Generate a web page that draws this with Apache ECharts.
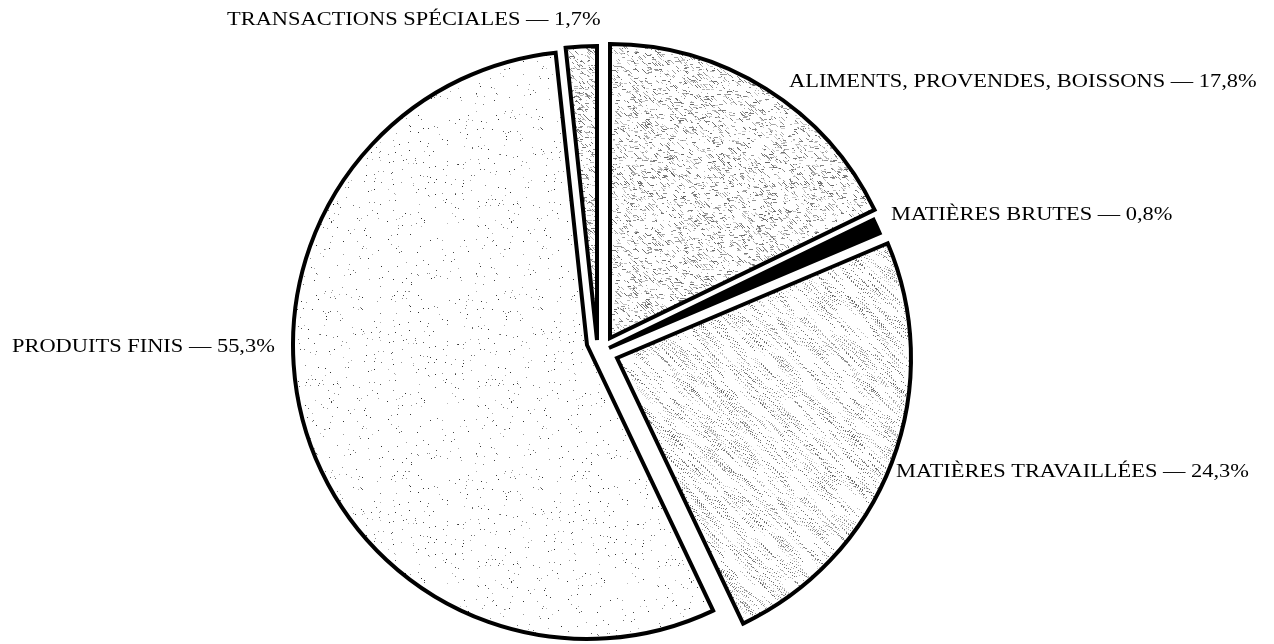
<!DOCTYPE html>
<html>
<head>
<meta charset="utf-8">
<script src="https://cdn.jsdelivr.net/npm/echarts@6/dist/echarts.min.js"></script>
<style>
  html, body { margin: 0; padding: 0; background: #fff; }
  #chart { width: 1274px; height: 644px; }
</style>
</head>
<body>
<div id="chart"></div>
<script>
// parts, clockwise from the top
var names = ['ALIMENTS, PROVENDES, BOISSONS', 'MATIÈRES BRUTES', 'MATIÈRES TRAVAILLÉES', 'PRODUITS FINIS', 'TRANSACTIONS SPÉCIALES'];
var values = [17.8, 0.8, 24.3, 55.3, 1.7];

// each slice is pulled out from the middle a little: own center per slice
var centers = [[610, 338], [609, 348], [617, 358], [587, 345], [597, 340]];
var labelPos = [[789, 82], [891, 215], [896, 472], [12, 347], [227, 20]];
var textures = ['stipple', 'black', 'hatch', 'sparse', 'stipple2'];

function rng(seed) {
    var s = seed;
    return function () {
        s = (s * 1664525 + 1013904223) >>> 0;
        return s / 4294967296;
    };
}

function makeTexture(kind) {
    var size = 180;
    var c = document.createElement('canvas');
    c.width = size; c.height = size;
    var ctx = c.getContext('2d');
    ctx.fillStyle = '#fff';
    ctx.fillRect(0, 0, size, size);
    var r = rng(kind.length * 7919 + 13);
    var i, x, y, k, g;
    if (kind == 'black') {
        ctx.fillStyle = '#000';
        ctx.fillRect(0, 0, size, size);
    } else if (kind == 'sparse') {
        for (i = 0; i < 420; i++) {
            x = Math.floor(r() * size); y = Math.floor(r() * size);
            g = 40 + Math.floor(r() * 150);
            ctx.fillStyle = 'rgb(' + g + ',' + g + ',' + g + ')';
            ctx.fillRect(x, y, 1, 1);
        }
    } else if (kind == 'stipple' || kind == 'stipple2') {
        // short grey scratches, like a screened print
        var n = kind == 'stipple' ? 2400 : 2800;
        for (i = 0; i < n; i++) {
            x = Math.floor(r() * size); y = Math.floor(r() * size);
            g = 100 + Math.floor(r() * 110);
            ctx.fillStyle = 'rgb(' + g + ',' + g + ',' + g + ')';
            var len = 1 + Math.floor(r() * 4);
            var dy = r() < 0.5 ? 0 : 1;
            for (k = 0; k < len; k++) {
                ctx.fillRect((x + k) % size, (y + k * dy) % size, 1, 1);
            }
        }
    } else if (kind == 'hatch') {
        // short dotted strokes running down-right
        for (i = 0; i < 700; i++) {
            x = Math.floor(r() * size); y = Math.floor(r() * size);
            var len2 = 3 + Math.floor(r() * 7);
            g = 100 + Math.floor(r() * 110);
            ctx.fillStyle = 'rgb(' + g + ',' + g + ',' + g + ')';
            for (k = 0; k < len2; k++) {
                ctx.fillRect((x + k * 2) % size, (y + k * 2 - (k % 2)) % size, 1, 1);
            }
        }
    }
    return c;
}

function fmt(v) {
    return String(v).replace('.', ',') + '%';
}

var series = [];
for (var s = 0; s < names.length; s++) {
    var data = [];
    for (var i = 0; i < names.length; i++) {
        if (i == s) {
            data.push({
                name: names[i], value: values[i],
                itemStyle: {
                    color: { image: makeTexture(textures[i]), repeat: 'repeat' },
                    borderColor: '#000', borderWidth: 4, borderJoin: 'miter'
                }
            });
        } else {
            data.push({
                name: names[i], value: values[i],
                itemStyle: { color: 'rgba(0,0,0,0)', borderWidth: 0 }
            });
        }
    }
    series.push({
        type: 'pie',
        center: centers[s],
        radius: [0, 294],
        startAngle: 90,
        clockwise: true,
        silent: true,
        avoidLabelOverlap: false,
        label: { show: false },
        labelLine: { show: false },
        data: data
    });
}

var graphics = [];
for (var j = 0; j < names.length; j++) {
    graphics.push({
        type: 'text',
        x: labelPos[j][0],
        y: labelPos[j][1],
        scaleX: 1.18,
        z: 100,
        style: {
            text: names[j] + ' — ' + fmt(values[j]),
            fill: '#000',
            align: 'left',
            verticalAlign: 'middle',
            font: '19px "Liberation Serif", "DejaVu Serif", serif'
        }
    });
}

var myChart = echarts.init(document.getElementById('chart'));
var option = {
    backgroundColor: '#fff',
    animation: false,
    graphic: graphics,
    series: series
};
myChart.setOption(option);
</script>
</body>
</html>
